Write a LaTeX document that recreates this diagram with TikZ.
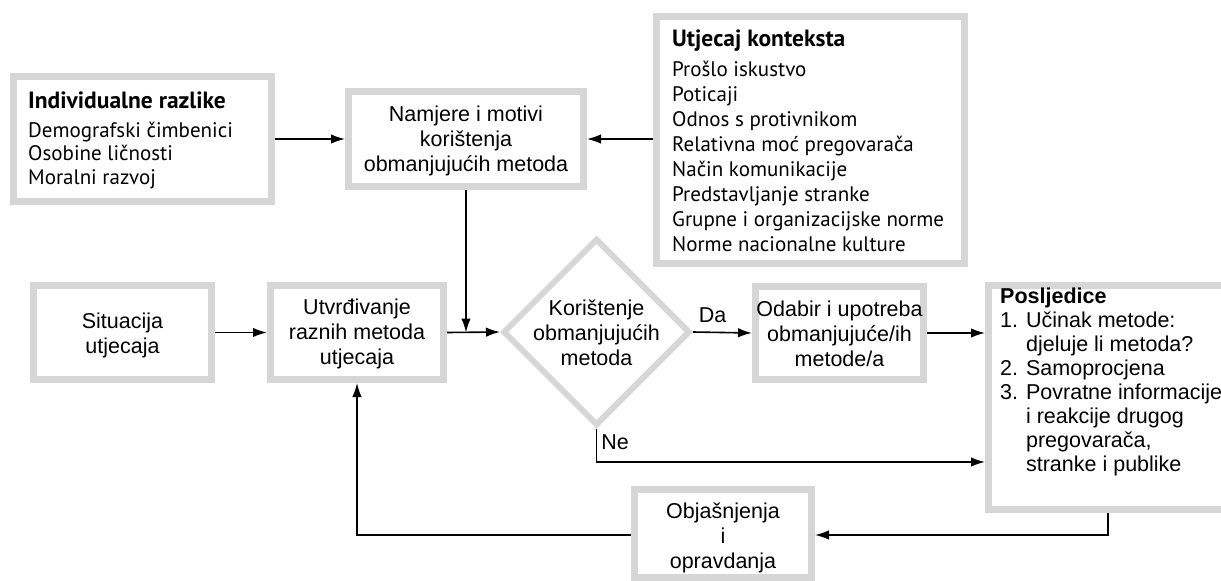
\documentclass[tikz,border=0pt]{standalone}
\usepackage{fontspec}
\newfontfamily\myr{PT Sans}
\newfontfamily\hel{Liberation Sans}
\usetikzlibrary{arrows.meta,shapes.geometric}
\definecolor{boxgray}{HTML}{D6D6D6}
\newcommand{\mytitle}[1]{{\fontsize{23.5}{23.5}\selectfont\bfseries #1}}
\begin{document}
\begin{tikzpicture}[x=1pt,y=-1pt,
  box/.style={draw=boxgray, line width=7pt, fill=white, inner sep=0pt},
  arr/.style={-{Latex[length=14pt,width=9.5pt]}, line width=1.6pt},
  hl/.style={font=\hel\fontsize{21.5}{25}\selectfont, align=center},
  hll/.style={font=\hel\fontsize{21.5}{24}\selectfont, align=left, inner sep=0pt},
  my/.style={font=\myr\fontsize{21}{23.5}\selectfont, align=left, inner sep=0pt},
  myk/.style={font=\myr\fontsize{21}{25}\selectfont, align=left, inner sep=0pt},
  lbl/.style={font=\hel\fontsize{21.5}{24}\selectfont, inner sep=0pt}]
\useasboundingbox[fill=white] (0,0) rectangle (1221,581);

% boxes
\node[box, minimum width=258, minimum height=125] (ind) at (142.5,139) {};
\node[my, anchor=north west] (indt) at (28,91.5) {\mytitle{Individualne razlike}\\[5.5pt]Demografski čimbenici\\Osobine ličnosti\\Moralni razvoj};

\node[box, minimum width=235, minimum height=95] (nam) at (466,139) {};
\node[hl, font=\hel\fontsize{21.5}{25}\selectfont] (namt) at (466,141) {Namjere i motivi\\korištenja\\obmanjujućih metoda};

\node[box, minimum width=308, minimum height=247] (kon) at (810.5,140) {};
\node[myk, anchor=north west] (kont) at (672,29.5) {\mytitle{Utjecaj konteksta}\\[5.5pt]Prošlo iskustvo\\Poticaji\\Odnos s protivnikom\\Relativna moć pregovarača\\Način komunikacije\\Predstavljanje stranke\\Grupne i organizacijske norme\\Norme nacionalne kulture};

\node[box, minimum width=178, minimum height=94] (sit) at (122.5,332.5) {};
\node[hl] (sitt) at (122.5,335) {Situacija\\utjecaja};
\node[box, minimum width=173, minimum height=94] (utv) at (357,332.5) {};
\node[hl] (utvt) at (357,334) {Utvrđivanje\\raznih metoda\\utjecaja};

\node[diamond, draw=boxgray, line width=6pt, fill=white, inner sep=0pt,
      minimum width=187, minimum height=187] (dia) at (596.5,332) {};
\node[hl] (diat) at (596.5,333) {Korištenje\\obmanjujućih\\metoda};

\node[box, minimum width=168, minimum height=93] (oda) at (839.5,333) {};
\node[hl] (odat) at (839.5,334) {Odabir i upotreba\\obmanjujuće/ih\\metode/a};

\node[box, minimum width=248, minimum height=224] (pos) at (1112.5,397.5) {};
\node[hll, anchor=north west] (post) at (1000,288) {\textbf{Posljedice}\\1. Učinak metode:\\\hphantom{1. }djeluje li metoda?\\2. Samoprocjena\\3. Povratne informacije\\\hphantom{3. }i reakcije drugog\\\hphantom{3. }pregovarača,\\\hphantom{3. }stranke i publike};

\node[box, minimum width=177, minimum height=88] (obj) at (723,533) {};
\node[hl] (objt) at (723,538) {Objašnjenja\\i\\opravdanja};

% connectors
\draw[arr] (ind.east) -- (nam.west);
\draw[arr] (kon.west |- nam.east) -- (nam.east);
\draw[arr] (sit.east) -- (utv.west);
\draw[arr] (utv.east) -- (dia.west);
\coordinate (join) at (nam.south |- utv.east);
\draw[arr] (nam.south) -- (join);
\draw[arr] (dia.east) -- node[lbl, above=9pt, xshift=-10pt] (da) {Da} (oda.west);
\draw[arr] (oda.east) -- (oda.east -| pos.west);
\draw[arr] (dia.south) |- node[lbl, pos=0.2, anchor=west, xshift=4pt] (ne) {Ne} ([yshift=-64.5pt]pos.west);
\draw[arr] ([xshift=-4.5pt]pos.south) |- ([yshift=-2pt]obj.east);
\draw[arr] ([yshift=-2pt]obj.west) -| (utv.south);
\end{tikzpicture}
\end{document}
